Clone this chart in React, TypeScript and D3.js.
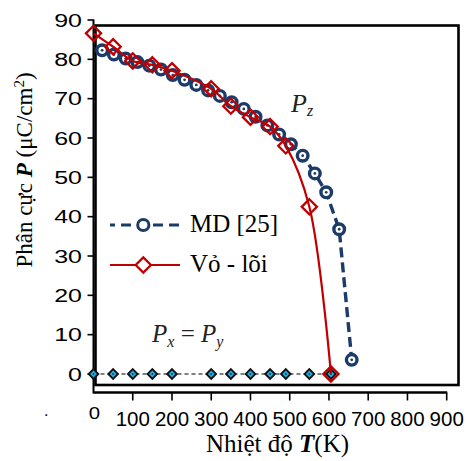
import React from 'react';
import * as d3 from 'd3';

const xTicks = [100, 200, 300, 400, 500, 600, 700, 800, 900];
const yTicks = [0, 10, 20, 30, 40, 50, 60, 70, 80, 90];

// Px = Py series
const pxT = [0, 50, 100, 150, 200, 300, 350, 400, 450, 490, 550, 605];
const pxP = [0, 0, 0, 0, 0, 0, 0, 0, 0, 0, 0, 0];

// Vỏ - lõi (core-shell) series
const shellT = [0, 50, 100, 150, 200, 300, 350, 400, 450, 490, 550, 605];
const shellP = [86.6, 83.2, 79.6, 78.6, 77.1, 72.5, 68.1, 65.3, 62.9, 58.0, 42.5, 0];

// MD [25] series
const mdT = [22, 52, 82, 112, 142, 172, 202, 232, 262, 292, 322, 352, 383, 413, 443, 473, 503, 533, 564, 593, 626, 658];
const mdP = [82.3, 81.2, 80.2, 79.3, 78.4, 77.4, 76.0, 74.8, 73.5, 72.1, 70.7, 69.1, 67.4, 65.4, 63.2, 60.9, 58.4, 55.5, 51.0, 46.2, 36.8, 3.6];

const W = 468;
const H = 461;
const NAVY = '#1b3b68';
const RED = '#c00000';
const CYAN = '#22aee4';
const SERIF = '"Liberation Serif", "Times New Roman", serif';
const SANS = '"Liberation Sans", Arial, sans-serif';

function diamond(cx: number, cy: number, r: number) {
  return `M${cx},${cy - r}L${cx + r},${cy}L${cx},${cy + r}L${cx - r},${cy}Z`;
}

export default function App() {
  const x = d3.scaleLinear().domain([0, 900]).range([93.5, 446.7]);
  const y = d3.scaleLinear().domain([0, 90]).range([374, 20]);

  const px = pxT.map((t, i) => [t, pxP[i]] as [number, number]);
  const shell = shellT.map((t, i) => [t, shellP[i]] as [number, number]);
  const md = mdT.map((t, i) => [t, mdP[i]] as [number, number]);

  const lin = d3.line<[number, number]>().x(d => x(d[0])).y(d => y(d[1]));
  const smooth = d3
    .line<[number, number]>()
    .x(d => x(d[0]))
    .y(d => y(d[1]))
    .curve(d3.curveCatmullRom.alpha(0.5));

  const x0 = x(0);
  const axisY = 392.5;

  return (
    <div style={{ position: 'absolute', left: 0, top: 0 }}>
      <svg width={W} height={H} viewBox={`0 0 ${W} ${H}`} style={{ display: 'block', background: '#fff' }}>
        {/* plot frame */}
        <rect x={95.5} y={25.5} width={363} height={359.5} fill="none" stroke="#000" strokeWidth={2.6} />

        {/* y axis */}
        <line x1={x0} y1={y(90) - 0.5} x2={x0} y2={axisY + 1} stroke="#000" strokeWidth={2} />
        {yTicks.map(v => (
          <line key={'yt' + v} x1={x0 - 6} x2={x0} y1={y(v)} y2={y(v)} stroke="#000" strokeWidth={1.6} />
        ))}
        {yTicks.map(v => (
          <text
            key={'yl' + v}
            transform={`translate(82,${y(v)}) scale(1.35,1)`}
            textAnchor="end"
            dy="0.36em"
            fontFamily={SANS}
            fontSize={18.5}
            fill="#000"
          >
            {v}
          </text>
        ))}

        {/* x axis */}
        <line x1={x0} x2={x(900) + 0.5} y1={axisY} y2={axisY} stroke="#000" strokeWidth={2.4} />
        {xTicks.map(v => (
          <line key={'xt' + v} x1={x(v)} x2={x(v)} y1={axisY} y2={axisY + 8} stroke="#000" strokeWidth={1.6} />
        ))}
        {xTicks.map(v => (
          <text key={'xl' + v} x={x(v)} y={426} textAnchor="middle" fontFamily={SANS} fontSize={20.5} fill="#000">
            {v}
          </text>
        ))}
        <text transform={`translate(${x(0) + 1},418.5) scale(1.2,1)`} textAnchor="middle" fontFamily={SANS} fontSize={17} fill="#000">
          0
        </text>
        <text x={44} y={416} fontFamily={SANS} fontSize={16} fill="#000">.</text>

        {/* Px = Py series */}
        <path d={lin(px) || ''} fill="none" stroke="#000" strokeWidth={1.2} strokeDasharray="4,3" />
        {px.map((d, i) => (
          <g key={'px' + i}>
            <path d={diamond(x(d[0]), y(d[1]), 4.8)} fill={CYAN} stroke="#111" strokeWidth={1.9} />
            <circle cx={x(d[0])} cy={y(d[1])} r={0.9} fill="#103050" />
          </g>
        ))}

        {/* MD series */}
        <path d={lin(md) || ''} fill="none" stroke={NAVY} strokeWidth={3.4} strokeDasharray="10,5" />
        {md
          .slice()
          .reverse()
          .map((d, i) => (
            <g key={'md' + i}>
              <circle cx={x(d[0])} cy={y(d[1])} r={5.3} fill="#fff" stroke={NAVY} strokeWidth={3.4} />
              <circle cx={x(d[0])} cy={y(d[1])} r={1.4} fill={NAVY} />
            </g>
          ))}

        {/* Vỏ - lõi series */}
        <path d={smooth(shell) || ''} fill="none" stroke={RED} strokeWidth={2.2} />
        {shell.map((d, i) => (
          <path key={'sh' + i} d={diamond(x(d[0]), y(d[1]), 7.6)} fill="none" stroke={RED} strokeWidth={2.3} />
        ))}

        {/* annotations */}
        <text x={291} y={111.5} fontFamily={SERIF} fontStyle="italic" fontSize={26} fill="#222">
          P
          <tspan fontSize={16} dy={4}>z</tspan>
        </text>
        <text x={152} y={341.5} fontFamily={SERIF} fontSize={25} fill="#222">
          <tspan fontStyle="italic">P</tspan>
          <tspan fontStyle="italic" fontSize={16} dy={5}>x</tspan>
          <tspan dy={-5}> = </tspan>
          <tspan fontStyle="italic">P</tspan>
          <tspan fontStyle="italic" fontSize={16} dy={5}>y</tspan>
        </text>

        {/* legend */}
        <line x1={110} x2={180} y1={225} y2={225} stroke={NAVY} strokeWidth={3} strokeDasharray="10,6" strokeDashoffset={5} />
        <circle cx={143.3} cy={225} r={5.6} fill="#fff" stroke={NAVY} strokeWidth={3} />
        <text x={190} y={231.5} fontFamily={SERIF} fontSize={25} fill="#000">MD [25]</text>
        <line x1={110} x2={180} y1={265} y2={265} stroke={RED} strokeWidth={2.2} />
        <path d={diamond(143.3, 265, 7.6)} fill="#fff" stroke={RED} strokeWidth={2.3} />
        <text x={190} y={271.5} fontFamily={SERIF} fontSize={25} fill="#000">Vỏ - lõi</text>

        {/* axis titles */}
        <text
          transform={`translate(32,170) rotate(-90)`}
          textAnchor="middle"
          fontFamily={SERIF}
          fontSize={23}
          fill="#000"
        >
          Phân cực{' '}
          <tspan fontWeight="bold" fontStyle="italic">P</tspan> (μC/cm
          <tspan fontSize={15} dy={-8}>2</tspan>
          <tspan dy={8}>)</tspan>
        </text>
        <text x={206} y={452} fontFamily={SERIF} fontSize={25} fill="#000">
          Nhiệt độ <tspan fontWeight="bold" fontStyle="italic">T</tspan>(K)
        </text>
      </svg>
    </div>
  );
}
